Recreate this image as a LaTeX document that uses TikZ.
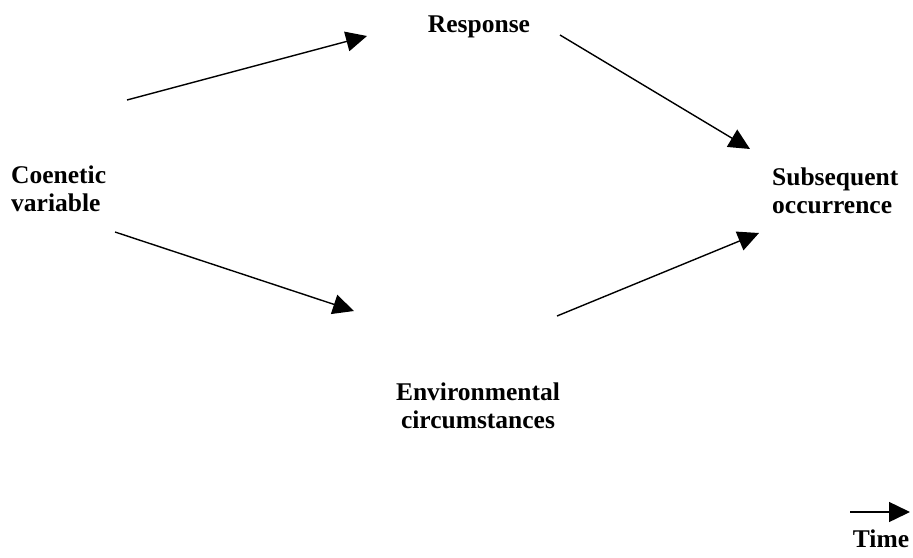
\documentclass[tikz,border=0pt]{standalone}
\usepackage{fontspec}
\setmainfont{Liberation Serif}
\usetikzlibrary{arrows.meta}
\begin{document}
\begin{tikzpicture}[x=1pt,y=-1pt,
  lbl/.style={font=\bfseries\fontsize{25.5}{28}\selectfont, inner sep=0pt},
  conn/.style={line width=1.4pt, -{Triangle[length=21pt,width=20pt]}}]
\useasboundingbox (0,0) rectangle (913,557);
\node[lbl, anchor=base west, align=left] (coen) at (11,211) {Coenetic\\variable};
\node[lbl, anchor=base] (resp) at (479,32) {Response};
\node[lbl, anchor=base west, align=left] (subs) at (772,213) {Subsequent\\occurrence};
\node[lbl, anchor=base, align=center] (env) at (478,428) {Environmental\\circumstances};
\node[lbl, anchor=base] (time) at (881,547) {Time};
\coordinate (a1s) at (127,100); \coordinate (a1e) at (367,36);
\coordinate (a2s) at (560,35);  \coordinate (a2e) at (750,149);
\coordinate (a3s) at (115,232); \coordinate (a3e) at (354,311);
\coordinate (a4s) at (557,316); \coordinate (a4e) at (759,233);
\coordinate (ts) at (850,512);  \coordinate (te) at (910,512);
\draw[conn] (a1s) -- (a1e);
\draw[conn] (a2s) -- (a2e);
\draw[conn] (a3s) -- (a3e);
\draw[conn] (a4s) -- (a4e);
\draw[conn] (ts) -- (te);
\end{tikzpicture}
\end{document}
